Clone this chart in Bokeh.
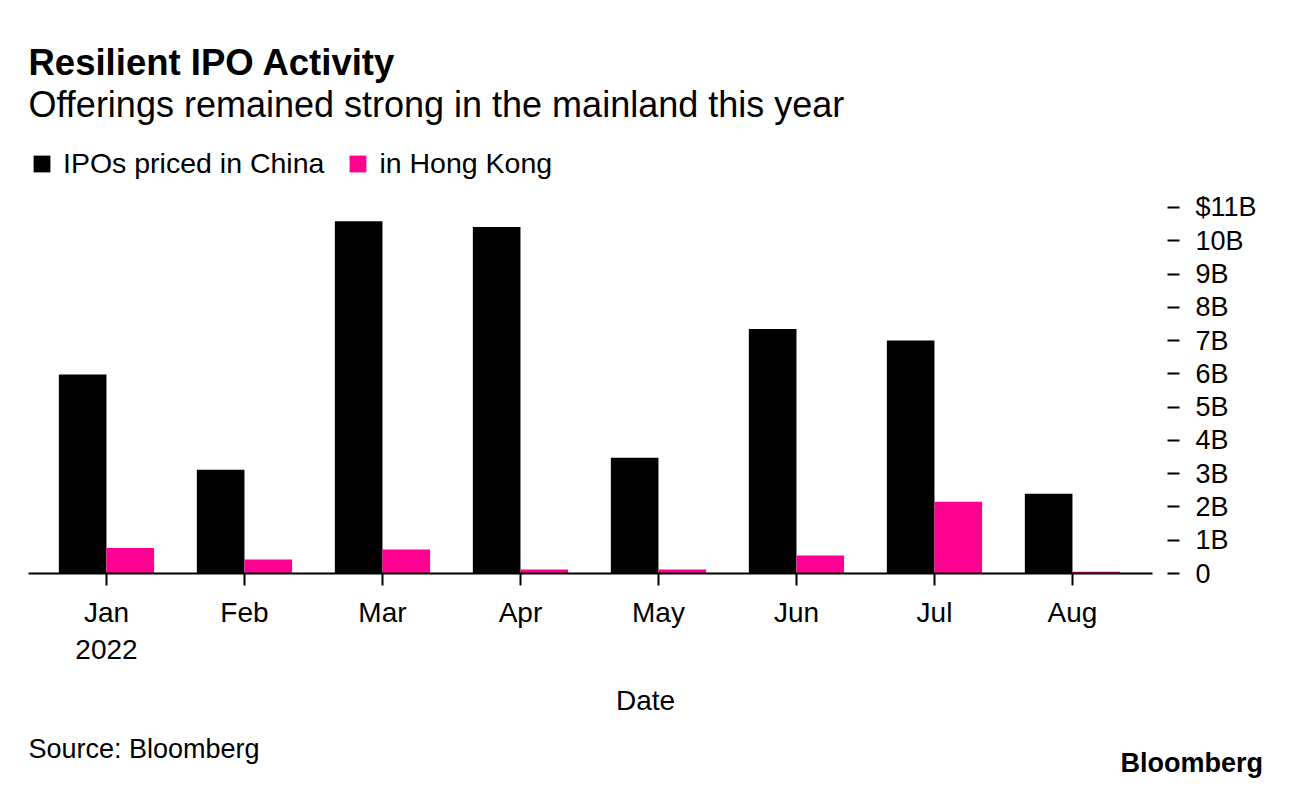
from bokeh.plotting import figure
from bokeh.layouts import column
from bokeh.models import (ColumnDataSource, FixedTicker, Label, Legend, LegendItem,
                          LinearAxis, Range1d)
from bokeh.transform import dodge
from bokeh.embed import file_html
from bokeh.resources import INLINE

# ---- data ----
months = ["Jan", "Feb", "Mar", "Apr", "May", "Jun", "Jul", "Aug"]
year_label = "2022"
china = [5.98, 3.12, 10.59, 10.41, 3.48, 7.35, 7.00, 2.40]
hong_kong = [0.77, 0.42, 0.72, 0.12, 0.12, 0.54, 2.16, 0.05]
y_ticks = [0, 1, 2, 3, 4, 5, 6, 7, 8, 9, 10, 11]
y_tick_labels = ["0", "1B", "2B", "3B", "4B", "5B", "6B", "7B", "8B", "9B", "10B", "$11B"]
series_names = ["IPOs priced in China", "in Hong Kong"]

FONT = "Liberation Sans"
BLACK = "#000000"
PINK = "#ff0090"
W = 1273
LEFT, RIGHT = 28, 1152          # frame edges (shared by all stacked plots)


def bare_fig(h):
    f = figure(width=W, height=h, output_backend="svg", toolbar_location=None,
               x_range=Range1d(0, 1), y_range=Range1d(0, h),
               x_axis_location=None, y_axis_location=None,
               min_border_left=LEFT, min_border_right=W - RIGHT,
               min_border_top=0, min_border_bottom=0)
    f.outline_line_color = None
    f.grid.visible = False
    f.background_fill_color = "white"
    f.border_fill_color = "white"
    return f


def txt(f, text, x, y, size, bold=False, align="left"):
    f.add_layout(Label(x=x - LEFT, y=y, x_units="screen", y_units="screen", text=text,
                       text_font=FONT, text_font_size=size, text_color=BLACK,
                       text_font_style="bold" if bold else "normal",
                       text_align=align, text_baseline="middle"))


src = ColumnDataSource(dict(x=list(range(len(months))), china=china, hk=hong_kong))
bw = 0.345

# ---- header (title, subtitle, legend) ----
TOP_H = 184
top = bare_fig(TOP_H)
txt(top, "Resilient IPO Activity", 28, TOP_H - 62, "36.5px", bold=True)
txt(top, "Offerings remained strong in the mainland this year", 28, TOP_H - 104, "36px")
# legend keys: same series, hidden in this header panel
k1 = top.vbar(x="x", top="china", width=bw, source=src, fill_color=BLACK,
              line_color=None, visible=False)
k2 = top.vbar(x="x", top="hk", width=bw, source=src, fill_color=PINK,
              line_color=None, visible=False)
legend = Legend(items=[LegendItem(label=series_names[0], renderers=[k1]),
                       LegendItem(label=series_names[1], renderers=[k2])],
                location=(3, 4), orientation="horizontal",
                padding=0, margin=0, spacing=23, label_standoff=11,
                glyph_width=21, glyph_height=21,
                border_line_color=None, background_fill_alpha=0,
                inactive_fill_alpha=0,
                label_text_font=FONT, label_text_font_size="28.5px",
                label_text_color=BLACK)
top.add_layout(legend, "center")

# ---- main chart ----
MAIN_TOP, FRAME_H, MAIN_BOTTOM = 16, 373, 100
p = figure(width=W, height=MAIN_TOP + FRAME_H + MAIN_BOTTOM,
           output_backend="svg", toolbar_location=None,
           x_range=Range1d(-0.565, 7.58), y_range=Range1d(0, 11.21),
           y_axis_location="right",
           min_border_left=LEFT, min_border_right=W - RIGHT,
           min_border_top=MAIN_TOP, min_border_bottom=MAIN_BOTTOM)
p.outline_line_color = None
p.grid.visible = False
p.background_fill_color = "white"
p.border_fill_color = "white"

r1 = p.vbar(x=dodge("x", -bw / 2, range=p.x_range), top="china", width=bw, source=src,
            fill_color=BLACK, line_color=None)
r2 = p.vbar(x=dodge("x", bw / 2, range=p.x_range), top="hk", width=bw, source=src,
            fill_color=PINK, line_color=None)

xa = p.xaxis[0]
xa.ticker = FixedTicker(ticks=list(range(len(months))))
ov = {i: m for i, m in enumerate(months)}
ov[0] = months[0] + "\n" + year_label
xa.major_label_overrides = ov
xa.axis_line_color = BLACK
xa.axis_line_width = 2
xa.major_tick_line_color = BLACK
xa.major_tick_line_width = 2
xa.major_tick_in = 0
xa.major_tick_out = 12
xa.minor_tick_line_color = None
xa.major_label_text_font = FONT
xa.major_label_text_font_size = "28px"
xa.major_label_text_color = BLACK
xa.major_label_standoff = 11

ya = p.yaxis[0]
ya.ticker = FixedTicker(ticks=y_ticks)
ya.major_label_overrides = {t: l for t, l in zip(y_ticks, y_tick_labels)}
ya.axis_line_color = None
ya.major_tick_line_color = BLACK
ya.major_tick_line_width = 2
ya.major_tick_in = -15
ya.major_tick_out = 27
ya.minor_tick_line_color = None
ya.major_label_text_font = FONT
ya.major_label_text_font_size = "27px"
ya.major_label_text_color = BLACK
ya.major_label_standoff = 16

# ---- footer ----
BOT_H = 105
bot = bare_fig(BOT_H)
page_bottom = TOP_H + MAIN_TOP + FRAME_H + MAIN_BOTTOM + BOT_H
txt(bot, "Date", 645, page_bottom - 700, "28px", align="center")
txt(bot, "Source: Bloomberg", 28, page_bottom - 748, "27px")
# brand mark at the bottom right, drawn as a side-panel label so it is not clipped
logo_y = page_bottom - 762
logo_axis = LinearAxis(ticker=FixedTicker(ticks=[logo_y]),
                       major_label_overrides={logo_y: "Bloomberg"},
                       axis_line_color=None, major_tick_line_color=None,
                       minor_tick_line_color=None,
                       major_tick_in=0, major_tick_out=0,
                       major_label_standoff=-32,
                       major_label_text_font=FONT, major_label_text_font_size="27px",
                       major_label_text_font_style="bold",
                       major_label_text_color=BLACK)
bot.add_layout(logo_axis, "right")

layout = column(top, p, bot, spacing=0)
open("out.html", "w").write(file_html(layout, INLINE))
